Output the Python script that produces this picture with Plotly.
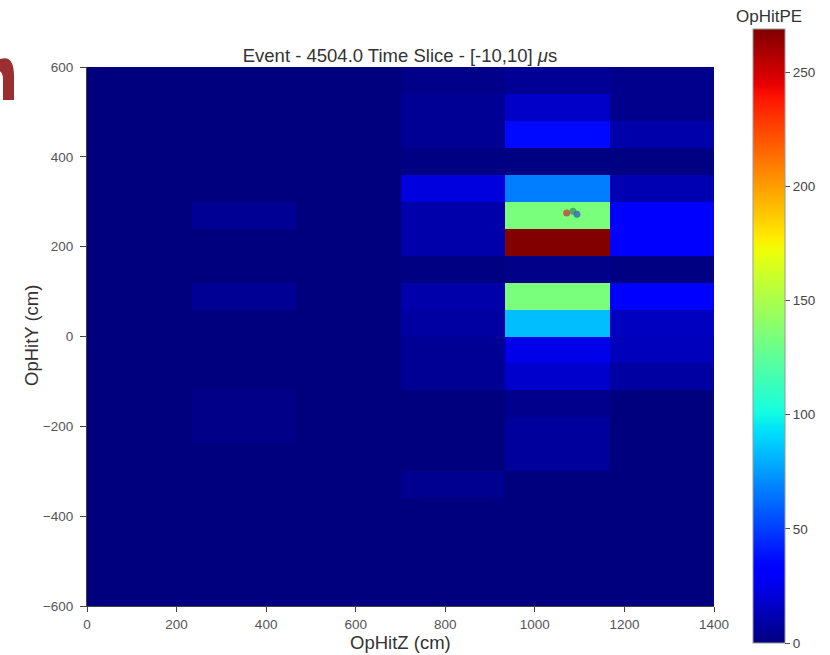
import plotly.graph_objects as go
import numpy as np

# ---------------- data ----------------
x_edges = [0, 233.33, 466.67, 700, 933.33, 1166.67, 1400]          # OpHitZ bins (cm)
y_edges = [-600, -540, -480, -420, -360, -300, -240, -180, -120, -60,
           0, 60, 120, 180, 240, 300, 360, 420, 480, 540, 600]        # OpHitY bins (cm)

# OpHitPE per bin; rows from y=-600 (bottom) up to y=600 (top); columns along Z
col0 = [0]*20
col1 = [0, 0, 0, 0, 0, 0, 2, 2, 0, 0, 0, 5, 0, 0, 5, 0, 0, 0, 0, 0]
col2 = [0]*20
col3 = [0, 0, 0, 0, 4, 0, 0, 0, 5, 5, 8, 10, 1, 10, 10, 22, 1, 5, 5, 2]
col4 = [0, 0, 0, 0, 0, 7, 7, 3, 18, 25, 84, 134, 2, 268, 134, 67, 1, 36, 17, 5]
col5 = [0, 0, 0, 0, 0, 0, 0, 0, 8, 14, 15, 31, 1, 30, 30, 12, 1, 10, 3, 3]

# reconstructed light-source points (Z, Y)
pt_z = [1071, 1085, 1094]
pt_y = [275, 279, 272]
pt_colors = ["rgba(205,60,60,0.8)", "rgba(60,150,90,0.8)", "rgba(60,100,180,0.8)"]

colbar_ticks = [0, 50, 100, 150, 200, 250]
x_ticks = [0, 200, 400, 600, 800, 1000, 1200, 1400]
y_ticks = [-600, -400, -200, 0, 200, 400, 600]

# ---------------- matplotlib "jet" colorscale ----------------
def jet(t):
    r = np.interp(t, [0, 0.35, 0.66, 0.89, 1], [0, 0, 1, 1, 0.5])
    g = np.interp(t, [0, 0.125, 0.375, 0.64, 0.91, 1], [0, 0, 1, 1, 0, 0])
    b = np.interp(t, [0, 0.11, 0.34, 0.65, 1], [0.5, 1, 1, 0, 0])
    return f"rgb({int(r*255)},{int(g*255)},{int(b*255)})"

jet_scale = [[t, jet(t)] for t in np.linspace(0, 1, 101)]

z = np.array([col0, col1, col2, col3, col4, col5]).T  # shape (20 rows, 6 cols)

# ---------------- geometry (screen pixels) ----------------
W, H = 830, 655
L, R, T, B = 87, 714, 67, 606
pw, ph = R - L, B - T

def px(xp):
    return (xp - L) / pw

def py(yp):
    return (B - yp) / ph

FONT = "Liberation Sans, Arial, sans-serif"

fig = go.Figure()
fig.add_trace(go.Heatmap(
    x=x_edges, y=y_edges, z=z,
    colorscale=jet_scale, zmin=0, zmax=269,
    colorbar=dict(
        x=px(753), xanchor="left", xpad=0, ypad=0,
        y=py(336), yanchor="middle",
        len=614, lenmode="pixels",
        thickness=32, thicknessmode="pixels",
        outlinewidth=1, outlinecolor="#999",
        tickvals=colbar_ticks, ticks="outside", ticklen=5, tickcolor="#555",
        tickfont=dict(family=FONT, size=13.5, color="#444"),
    ),
    hoverinfo="skip",
))
fig.add_trace(go.Scatter(
    x=pt_z, y=pt_y, mode="markers",
    marker=dict(size=7, color=pt_colors, line=dict(width=0)),
    showlegend=False,
))

axis_font = dict(family=FONT, size=13.5, color="#555")
fig.update_layout(
    width=W, height=H,
    margin=dict(l=L, r=W - R, t=T, b=H - B, autoexpand=False),
    paper_bgcolor="white", plot_bgcolor="white",
    title=dict(text="Event - 4504.0 Time Slice - [-10,10] <i>μ</i>s",
               x=px(400), xref="paper", xanchor="center",
               y=1 - 56 / H, yref="container", yanchor="middle",
               font=dict(family=FONT, size=18.5, color="#333")),
    xaxis=dict(range=[0, 1400], tickvals=x_ticks, ticks="outside", ticklen=5,
               tickcolor="#444", showgrid=False, zeroline=False,
               showline=True, linecolor="#444", linewidth=1, mirror=False,
               ticklabelstandoff=1, tickfont=axis_font),
    yaxis=dict(range=[-600, 600], tickvals=y_ticks, ticks="outside", ticklen=6,
               tickcolor="#444", showgrid=False, zeroline=False,
               showline=True, linecolor="#444", linewidth=1,
               ticklabelstandoff=4, tickfont=axis_font),
    annotations=[
        dict(text="OpHitPE", xref="paper", yref="paper",
             x=px(769), y=py(17), xanchor="center", yanchor="middle",
             showarrow=False, font=dict(family=FONT, size=17, color="#333")),
        dict(text="OpHitZ (cm)", xref="paper", yref="paper",
             x=px(400), y=py(642), xanchor="center", yanchor="middle",
             showarrow=False, font=dict(family=FONT, size=18.5, color="#333")),
        dict(text="OpHitY (cm)", xref="paper", yref="paper", textangle=-90,
             x=px(31), y=py(336), xanchor="center", yanchor="middle",
             showarrow=False, font=dict(family=FONT, size=18.5, color="#333")),
    ],
    shapes=[dict(type="path", xref="paper", yref="paper", layer="above",
                 fillcolor="#9b2f2f", line=dict(width=0),
                 path=(f"M {px(-6)},{py(62)} Q {px(14)},{py(50)} {px(14)},{py(76)} "
                       f"L {px(14)},{py(100)} L {px(3)},{py(100)} L {px(3)},{py(78)} "
                       f"Q {px(2)},{py(68)} {px(-6)},{py(72)} Z"))],
)

fig.write_html("out.html", config={"displayModeBar": False},
               post_script="document.body.style.margin='0';")
